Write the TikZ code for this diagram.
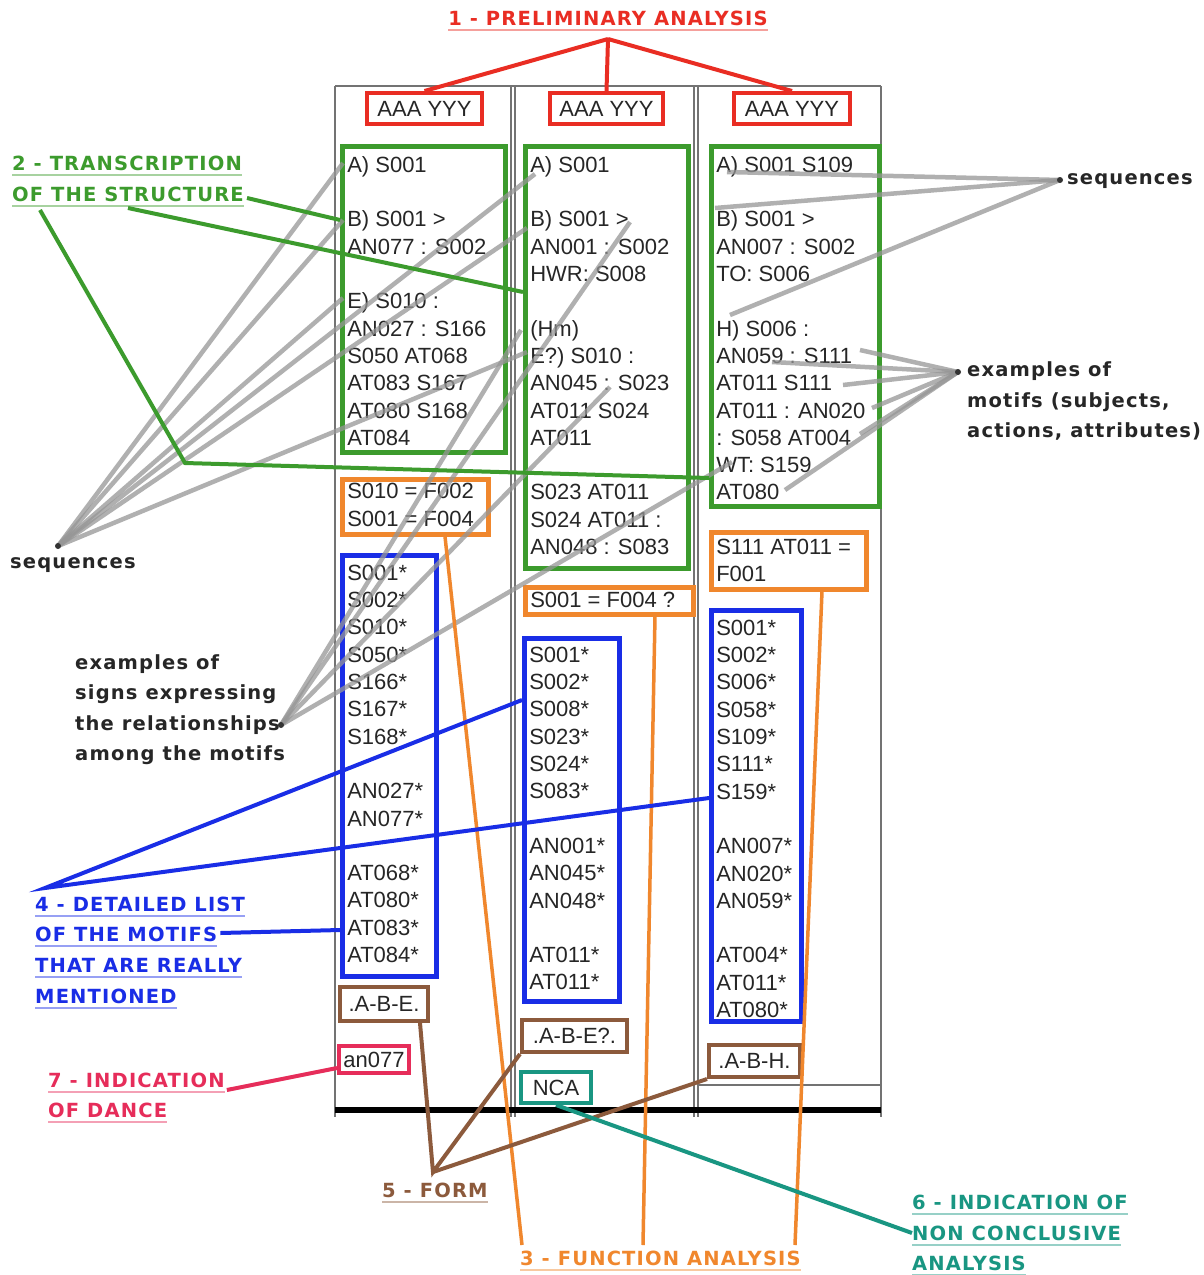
\documentclass[tikz,border=0pt]{standalone}
\usepackage{fontspec}
\setmainfont{Liberation Sans}
\newfontfamily\labfont[LetterSpace=6]{DejaVu Sans}
\usetikzlibrary{calc}

\definecolor{redc}{RGB}{233,45,35}
\definecolor{grnc}{RGB}{60,155,45}
\definecolor{bluc}{RGB}{25,45,230}
\definecolor{orgc}{RGB}{240,135,45}
\definecolor{brnc}{RGB}{140,90,60}
\definecolor{pnkc}{RGB}{230,45,90}
\definecolor{tealc}{RGB}{25,150,130}
\definecolor{seqc}{RGB}{150,150,150}

\newcommand\cellfont{\fontsize{22}{27.3}\selectfont}
\newcommand\labsize{\fontsize{19.5}{30.5}\selectfont}
\newcommand\cell[3]{\parbox[t][#2pt][t]{#1pt}{\raggedright\strut #3}}
\newcommand\gap{\\[27.3pt]}

\begin{document}
\begin{tikzpicture}[
    x=1pt, y=-1pt,
    framel/.style={draw=black!55, line width=1.3pt},
    cellbox/.style={draw, line width=4.5pt, anchor=north west, inner xsep=5pt, font=\cellfont, text=black!85},
    gbox/.style={cellbox, draw=grnc, inner ysep=7pt},
    obox/.style={cellbox, draw=orgc},
    bbox/.style={cellbox, draw=bluc},
    tagbox/.style={draw=#1, line width=4pt, inner sep=0pt, font=\cellfont, text=black!85},
    lab/.style={font=\labfont\bfseries\labsize, text=#1, inner sep=0pt, anchor=base west,
        append after command={([yshift=-5pt]\tikzlastnode.base west) edge[draw=#1!45, line width=1.3pt] ([yshift=-5pt]\tikzlastnode.base east)}},
    note/.style={font=\labfont\bfseries\labsize, text=black!85, inner sep=0pt, anchor=base west},
    seq/.style={draw=seqc, line width=4.5pt, draw opacity=0.75},
    link/.style={draw=#1, line width=4pt}
]
    \useasboundingbox (0,0) rectangle (1203,1275);
    \fill[white] (0,0) rectangle (1203,1275);

    % frame of the three columns
    \foreach \x in {335,511,515,694,698,881}
        \draw[framel] (\x,86) -- (\x,1117);
    \draw[framel] (335,86) -- (881,86);
    \draw[framel] (698,1085) -- (881,1085);
    \draw[line width=6pt] (335,1110) -- (881,1110);

    % titles
    \node[tagbox=redc, minimum width=115pt, minimum height=31pt] (aaa1) at (424.5,108.5) {AAA YYY};
    \node[tagbox=redc, minimum width=113pt, minimum height=31pt] (aaa2) at (606.5,108.5) {AAA YYY};
    \node[tagbox=redc, minimum width=116pt, minimum height=31pt] (aaa3) at (792,108.5) {AAA YYY};

    % transcription of the structure
    \node[gbox] (tr1) at (340,144) {\cell{153}{292}{A) S001\gap B) S001 >\\AN077 : S002\gap E) S010 :\\AN027 : S166\\S050 AT068\\AT083 S167\\AT080 S168\\AT084}};
    \node[gbox] (tr2) at (523,144) {\cell{153}{408}{A) S001\gap B) S001 >\\AN001 : S002\\HWR: S008\gap (Hm)\\E?) S010 :\\AN045 : S023\\AT011 S024\\AT011\gap S023 AT011\\S024 AT011 :\\AN048 : S083}};
    \node[gbox] (tr3) at (709,144) {\cell{158}{346}{A) S001 S109\gap B) S001 >\\AN007 : S002\\TO: S006\gap H) S006 :\\AN059 : S111\\AT011 S111\\AT011 : AN020\\: S058 AT004\\WT: S159\\AT080}};

    % functions
    \node[obox, inner ysep=0.5pt] (fn1) at (340,477) {\cell{136}{54}{S010 = F002\\S001 = F004}};
    \node[obox, inner ysep=1.5pt] (fn2) at (523,585) {\cell{158}{24}{S001 = F004 ?}};
    \node[obox, inner ysep=3pt] (fn3) at (709,530) {\cell{145}{51}{S111 AT011 =\\F001}};

    % motifs
    \node[bbox, inner ysep=6pt] (mo1) at (340,553) {\cell{84}{409}{S001*\\S002*\\S010*\\S050*\\S166*\\S167*\\S168*\gap AN027*\\AN077*\gap AT068*\\AT080*\\AT083*\\AT084*}};
    \node[bbox, inner ysep=5pt] (mo2) at (522,636) {\cell{85}{353}{S001*\\S002*\\S008*\\S023*\\S024*\\S083*\gap AN001*\\AN045*\\AN048*\gap AT011*\\AT011*}};
    \node[bbox, inner ysep=6pt] (mo3) at (709,608) {\cell{80}{399}{S001*\\S002*\\S006*\\S058*\\S109*\\S111*\\S159*\gap AN007*\\AN020*\\AN059*\gap AT004*\\AT011*\\AT080*}};

    % form, dance, nca
    \node[tagbox=brnc, minimum width=88pt, minimum height=34pt] (fo1) at (384,1004) {.A-B-E.};
    \node[tagbox=brnc, minimum width=105pt, minimum height=32pt] (fo2) at (574.5,1036) {.A-B-E?.};
    \node[tagbox=brnc, minimum width=91pt, minimum height=32pt] (fo3) at (754.5,1061) {.A-B-H.};
    \node[tagbox=pnkc, minimum width=70pt, minimum height=27pt] (dn) at (374,1059.5) {an077};
    \node[tagbox=tealc, minimum width=70pt, minimum height=31pt] (nca) at (556,1087.5) {NCA};

    % grey pointers
    \coordinate (fanL) at (58,546);
    \coordinate (fanR) at (1060,180);
    \coordinate (fanS) at (281,725);
    \coordinate (fanM) at (958,372);
    \foreach \n/\x/\y in {1/343/163, 2/343/220, 3/343/298, 4/535/174, 5/527/228, 6/527/352} {
        \coordinate (sqL\n) at (\x,\y);
        \draw[seq] (fanL) -- (sqL\n);
    }
    \foreach \n/\x/\y in {1/727/172, 2/715/208, 3/730/315} {
        \coordinate (sqR\n) at (\x,\y);
        \draw[seq] (fanR) -- (sqR\n);
    }
    \foreach \n/\x/\y in {1/521/330, 2/630/222, 3/610/387, 4/732/462} {
        \coordinate (sg\n) at (\x,\y);
        \draw[seq] (fanS) -- (sg\n);
    }
    \foreach \n/\x/\y in {1/860/350, 2/772/362, 3/843/385, 4/872/408, 5/860/434, 6/785/490} {
        \coordinate (mf\n) at (\x,\y);
        \draw[seq] (fanM) -- (mf\n);
    }
    \foreach \f in {fanL,fanR,fanS,fanM}
        \fill[black!80] (\f) circle (3pt);

    % notes
    \node[note] (seqA) at (10,568) {sequences};
    \node[note] (seqB) at (1067,184) {sequences};
    \foreach \t [count=\i] in {examples of, signs expressing, the relationships, among the motifs}
        \node[note] (sgn\i) at (75,638.5+30.5*\i) {\t};
    \foreach \t [count=\i] in {examples of, {motifs (subjects,}, {actions, attributes)}}
        \node[note] (mtf\i) at (967,346+30.5*\i) {\t};

    % numbered labels
    \node[lab=redc, anchor=base] (l1) at (608,25) {1 - PRELIMINARY ANALYSIS};
    \node[lab=grnc] (l2a) at (12,170) {2 - TRANSCRIPTION};
    \node[lab=grnc] (l2b) at (12,201) {OF THE STRUCTURE};
    \node[lab=orgc] (l3) at (520,1265) {3 - FUNCTION ANALYSIS};
    \node[lab=bluc] (l4a) at (35,911) {4 - DETAILED LIST};
    \node[lab=bluc] (l4b) at (35,941) {OF THE MOTIFS};
    \node[lab=bluc] (l4c) at (35,972) {THAT ARE REALLY};
    \node[lab=bluc] (l4d) at (35,1003) {MENTIONED};
    \node[lab=brnc] (l5) at (382,1197) {5 - FORM};
    \node[lab=tealc] (l6a) at (912,1209) {6 - INDICATION OF};
    \node[lab=tealc] (l6b) at (912,1240) {NON CONCLUSIVE};
    \node[lab=tealc] (l6c) at (912,1270) {ANALYSIS};
    \node[lab=pnkc] (l7a) at (48,1087) {7 - INDICATION};
    \node[lab=pnkc] (l7b) at (48,1117) {OF DANCE};

    % 1
    \coordinate (l1tip) at (608,39);
    \foreach \b in {aaa1,aaa2,aaa3}
        \draw[link=redc] (l1tip) -- (\b.north);
    % 2
    \draw[link=grnc] ([xshift=3pt,yshift=3pt]l2b.base east) -- (tr1.west |- 0,220);
    \draw[link=grnc] ([yshift=-7pt]l2b.base) -- (tr2.west |- 0,292);
    \coordinate (l2knee) at (185,463);
    \draw[link=grnc] ([xshift=28pt,yshift=-9pt]l2b.base west) -- (l2knee) -- (tr3.west |- 0,478);
    % 3
    \foreach \n/\x/\s in {fn1/445/2, fn2/655/123, fn3/822/275}
        \draw[link=orgc, line width=3.5pt] (\n.south -| \x,0) -- ([xshift=\s pt,yshift=20pt]l3.base west);
    % 4
    \coordinate (l4tip) at ([xshift=10pt,yshift=23pt]l4a.base west);
    \draw[link=bluc] (mo2.west |- 0,700) -- (l4tip) -- (mo3.west |- 0,798);
    \draw[link=bluc] ([xshift=3pt,yshift=8pt]l4b.base east) -- (mo1.west |- 0,930);
    % 5
    \coordinate (l5tip) at ([xshift=51pt,yshift=25pt]l5.base west);
    \draw[link=brnc] ([xshift=36pt]fo1.south) -- (l5tip) -- (fo2.south west);
    \draw[link=brnc] (l5tip) -- (fo3.south west);
    % 6
    \draw[link=tealc] (nca.south) -- ([yshift=7pt]l6b.base west);
    % 7
    \draw[link=pnkc] ([xshift=2pt,yshift=-3pt]l7a.base east) -- (dn.west |- 0,1068);
\end{tikzpicture}
\end{document}
